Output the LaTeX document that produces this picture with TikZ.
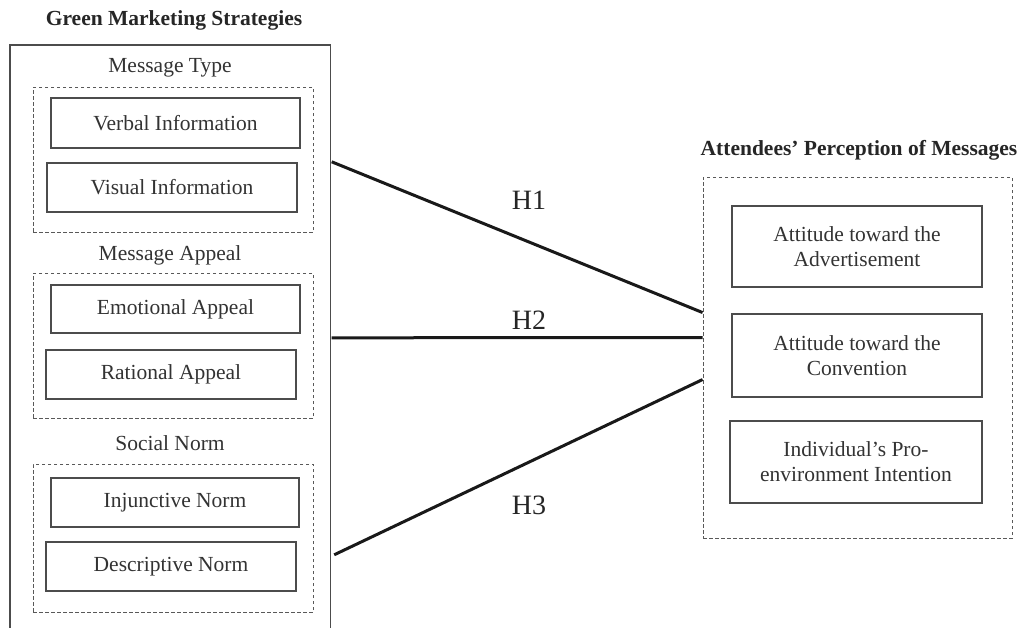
\documentclass[tikz,border=0pt]{standalone}
\usepackage{fontspec}
\setmainfont{Liberation Serif}
\usetikzlibrary{calc}
\begin{document}
\begin{tikzpicture}[x=1pt,y=-1pt,
  txt/.style={font=\fontsize{21.5}{25}\selectfont, text=black!80},
  ttl/.style={font=\fontsize{21.5}{25}\selectfont\bfseries, text=black!85},
  solidbox/.style={draw=black!70, line width=1.4pt, fill=white, inner sep=0pt, align=center,
     font=\fontsize{21.5}{25}\selectfont, text=black!80},
  dashbox/.style={draw=black!65, line width=0.9pt, dash pattern=on 3.5pt off 2.5pt, inner sep=0pt},
  conn/.style={line width=3pt, black!90},
  hyp/.style={font=\fontsize{28}{32}\selectfont, text=black!85}
]
\useasboundingbox (0,0) rectangle (1018,627);
\fill[white] (0,0) rectangle (1018,627);

% Left side
\node[ttl] (gms) at (174,20) {Green Marketing Strategies};
\node[inner sep=0pt, minimum width=320pt, minimum height=583pt] (outer) at (170,336.5) {};
\draw[black!70, line width=1.4pt] (outer.south west) -- (outer.north west) -- (outer.north east) -- (outer.south east);

\node[txt] (mt) at (170,68) {Message Type};
\node[dashbox, minimum width=280pt, minimum height=145pt] (d1) at (173,159.5) {};
\node[solidbox, minimum width=249pt, minimum height=50pt] (verbal) at (175.5,123) {Verbal Information};
\node[solidbox, minimum width=250pt, minimum height=49pt] (visual) at (172,187.5) {Visual Information};

\node[txt] (ma) at (170,255) {Message Appeal};
\node[dashbox, minimum width=280pt, minimum height=145pt] (d2) at (173,345.5) {};
\node[solidbox, minimum width=249pt, minimum height=48pt] (emo) at (175.5,309) {Emotional Appeal};
\node[solidbox, minimum width=250pt, minimum height=49pt] (rat) at (171,374.5) {Rational Appeal};

\node[txt] (sn) at (170,443) {Social Norm};
\node[dashbox, minimum width=280pt, minimum height=148pt] (d3) at (173,538) {};
\node[solidbox, minimum width=248pt, minimum height=49pt] (inj) at (175,502.5) {Injunctive Norm};
\node[solidbox, minimum width=250pt, minimum height=49pt] (desc) at (171,566.5) {Descriptive Norm};

% Right side
\node[ttl] (apm) at (859,150) {Attendees' Perception of Messages};
\node[dashbox, minimum width=309pt, minimum height=361pt] (d4) at (857.5,357.5) {};
\node[solidbox, minimum width=250pt, minimum height=81pt] (ada) at (857,246.5) {Attitude toward the\\Advertisement};
\node[solidbox, minimum width=250pt, minimum height=83pt] (adc) at (857,355.5) {Attitude toward the\\Convention};
\node[solidbox, minimum width=252pt, minimum height=82pt] (ipi) at (856,462) {Individual's Pro-\\environment Intention};

% Connector end points on the container borders
\coordinate (s1) at ($(outer.north east)+(1.5,117)$);
\coordinate (s2) at ($(outer.north east)+(1.5,293)$);
\coordinate (s3) at ($(outer.north east)+(4,510)$);
\coordinate (e1) at ($(d4.north west)+(0,136)$);
\coordinate (e2) at ($(d4.north west)+(0,161)$);
\coordinate (e3) at ($(d4.north west)+(0,203)$);

\draw[conn] (s1) -- (e1);
\draw[conn] (s2) -- (e2);
\draw[conn] (s3) -- (e3);

\node[hyp] (h1) at (529,200) {H1};
\node[hyp] (h2) at (529,320) {H2};
\node[hyp] (h3) at (529,505) {H3};
\end{tikzpicture}
\end{document}
